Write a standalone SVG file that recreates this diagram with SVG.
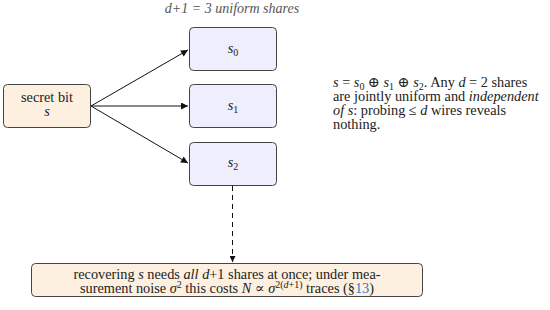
<svg xmlns="http://www.w3.org/2000/svg" width="550" height="310" viewBox="0 0 550 310">
<defs>
<style>
.t{font-family:"Liberation Serif","DejaVu Serif",serif;font-size:14.3px;fill:#222}
.i{font-style:italic}
.sub{font-size:10px}
.box{stroke:#444;stroke-width:1}
.peach{fill:#fdf0e0}
.lav{fill:#eeeefc}
.c{stroke:#111;stroke-width:1;fill:none}
</style>
<marker id="ah" viewBox="0 0 10 10" refX="10" refY="5" markerWidth="10" markerHeight="7" markerUnits="userSpaceOnUse" orient="auto">
<path d="M0,0 L10,5 L0,10 z" fill="#111"/>
</marker>
<marker id="ah2" viewBox="0 0 10 10" refX="10" refY="5" markerWidth="8" markerHeight="6" markerUnits="userSpaceOnUse" orient="auto">
<path d="M0,0 L10,5 L0,10 z" fill="#111"/>
</marker>
</defs>
<rect width="550" height="310" fill="#fff"/>
<text class="t i" x="232" y="13" text-anchor="middle" style="fill:#555;font-size:14px">d+1 = 3 uniform shares</text>
<g id="connectors">
<line class="c" x1="91" y1="106" x2="188" y2="50" marker-end="url(#ah)"/>
<line class="c" x1="91" y1="106" x2="188" y2="106" marker-end="url(#ah)"/>
<line class="c" x1="91" y1="106" x2="188" y2="163" marker-end="url(#ah)"/>
<line class="c" x1="232.5" y1="186" x2="232.5" y2="262" stroke-dasharray="5,4" marker-end="url(#ah2)"/>
</g>
<g id="secret">
<rect class="box peach" x="3.5" y="84.5" width="87" height="43" rx="4"/>
<text class="t" x="47" y="102" text-anchor="middle">secret bit</text>
<text class="t i" x="47" y="116" text-anchor="middle">s</text>
</g>
<g id="s0">
<rect class="box lav" x="189.5" y="27.5" width="87" height="43" rx="4"/>
<text class="t" x="233" y="53" text-anchor="middle"><tspan class="i">s</tspan><tspan class="sub" dy="3">0</tspan></text>
</g>
<g id="s1">
<rect class="box lav" x="189.5" y="84.5" width="87" height="43" rx="4"/>
<text class="t" x="233" y="110" text-anchor="middle"><tspan class="i">s</tspan><tspan class="sub" dy="3">1</tspan></text>
</g>
<g id="s2">
<rect class="box lav" x="189.5" y="142.5" width="87" height="43" rx="4"/>
<text class="t" x="233" y="167" text-anchor="middle"><tspan class="i">s</tspan><tspan class="sub" dy="3">2</tspan></text>
</g>
<g id="note">
<text class="t" x="333" y="87"><tspan class="i">s</tspan> = <tspan class="i">s</tspan><tspan class="sub" dy="3">0</tspan><tspan dy="-3"> ⊕ </tspan><tspan class="i">s</tspan><tspan class="sub" dy="3">1</tspan><tspan dy="-3"> ⊕ </tspan><tspan class="i">s</tspan><tspan class="sub" dy="3">2</tspan><tspan dy="-3">.  Any </tspan><tspan class="i">d</tspan> = 2 shares</text>
<text class="t" x="333" y="101">are jointly uniform and <tspan class="i">independent</tspan></text>
<text class="t" x="333" y="115"><tspan class="i">of s</tspan>: probing ≤ <tspan class="i">d</tspan> wires reveals</text>
<text class="t" x="333" y="129">nothing.</text>
</g>
<g id="result">
<rect class="box peach" x="31.5" y="263.5" width="391" height="33" rx="4"/>
<text class="t" x="227" y="279" text-anchor="middle">recovering <tspan class="i">s</tspan> needs <tspan class="i">all d</tspan>+1 shares at once; under mea-</text>
<text class="t" x="227" y="293" text-anchor="middle">surement noise <tspan class="i">σ</tspan><tspan class="sub" dy="-5">2</tspan><tspan dy="5"> this costs </tspan><tspan class="i">N</tspan>  ∝  <tspan class="i">σ</tspan><tspan class="sub" dy="-5">2(<tspan class="i">d</tspan>+1)</tspan><tspan dy="5">  traces (§</tspan><tspan style="fill:#1f7fc9">13</tspan>)</text>
</g>
</svg>
